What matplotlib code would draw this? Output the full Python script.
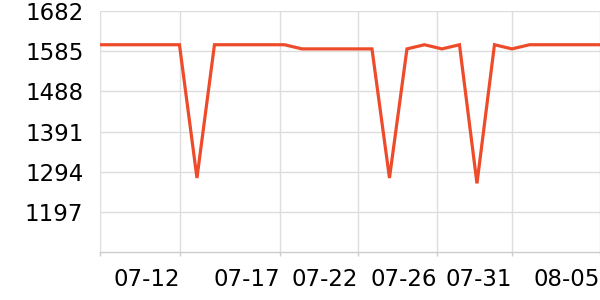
import matplotlib
matplotlib.use("Agg")
import matplotlib.pyplot as plt
import numpy as np

# Data: daily values (day offset relative to 07-12)
days = list(range(-5, 25))
values = [1600, 1600, 1600, 1600, 1600, 1600,   # -5 .. 0
          1279,                                  # 1
          1600, 1600, 1600, 1600, 1600,          # 2 .. 6
          1590, 1590, 1590, 1590, 1590,          # 7 .. 11
          1279,                                  # 12
          1590, 1600, 1590, 1600,                # 13 .. 16
          1266,                                  # 17
          1600, 1590,                            # 18, 19
          1600, 1600, 1600, 1600, 1600]          # 20 .. 24

x_tick_labels = ["07-12", "07-17", "07-22", "07-26", "07-31", "08-05"]
y_ticks = [1197, 1294, 1391, 1488, 1585, 1682]

# Layout constants
x_tick_pos = [0.03, 5.74, 10.2, 14.71, 19.0, 24.03]
x_left = -4.54
x_right = 24.03
y_min = 1100
y_max = 1682

fig = plt.figure(figsize=(6, 3), dpi=100)
ax = fig.add_axes([100/600, 1 - 252.3/300, 500/600, (252.3 - 10.7)/300])

ax.plot(days, values, color="#EE4B2B", linewidth=2.3, solid_joinstyle="miter", zorder=3)

ax.set_xlim(x_left, x_right)
ax.set_ylim(y_min, y_max)

ax.set_xticks([x_left] + x_tick_pos)
ax.set_xticklabels([""] + x_tick_labels, fontsize=16.5, ha="right")
ax.set_yticks(y_ticks)
ax.set_yticklabels([str(v) for v in y_ticks], fontsize=16.5)

ax.tick_params(axis="x", length=3, width=1, color="#cccccc", pad=8)
ax.tick_params(axis="y", length=0, pad=12)

ax.grid(True, color="#dddddd", linewidth=1)
ax.set_axisbelow(True)

for s in ["top", "right", "left"]:
    ax.spines[s].set_visible(False)
ax.spines["bottom"].set_color("#cccccc")
ax.spines["bottom"].set_linewidth(1)

fig.savefig("out.png", dpi=100)
